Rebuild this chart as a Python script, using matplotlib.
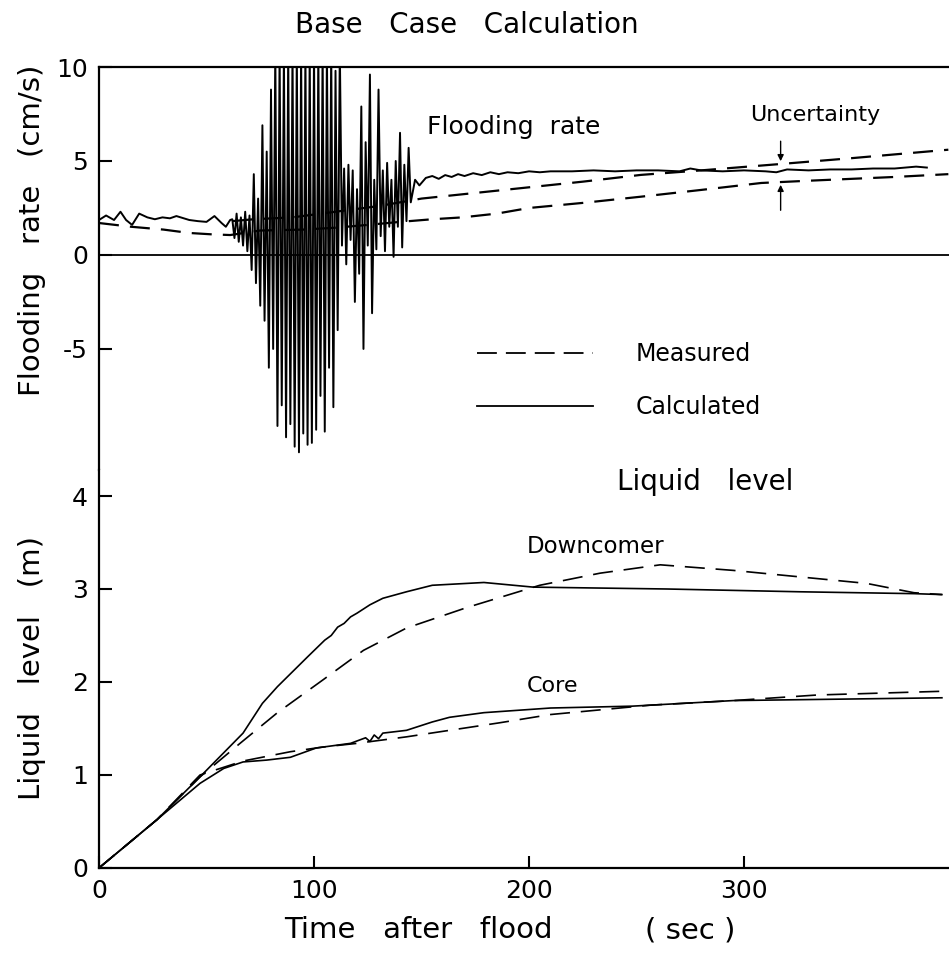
import matplotlib
matplotlib.use('Agg')
from matplotlib import pyplot as plt
from matplotlib.lines import Line2D

plt.rcParams['font.family'] = ['DejaVu Sans']
plt.rcParams['axes.unicode_minus'] = False

# flooding rate, calculated (cm/s): smooth start, oscillation, then steady
pre_t = [0, 3.3, 7, 10, 12.6, 15.4, 18.7, 22.5, 26, 29.5, 33, 36, 42, 46, 50, 53.7, 57, 59, 61]
pre_v = [1.86, 2.1, 1.86, 2.3, 1.86, 1.6, 2.2, 2.0, 1.9, 2.0, 1.95, 2.07, 1.86, 1.8, 1.76, 2.07, 1.7, 1.5, 1.86]
osc_t = list(range(62, 146))
osc_v = [1.9, 0.9, 2.2, 0.7, 2.0, 0.5, 2.3, 0.2, 2.1, -0.8, 4.3, -1.5, 3.0, -2.7, 6.9, -3.5,
         5.5, -6.0, 8.8, -5.0, 11, -9.1, 11, -8.0, 11, -9.7, 11, -9.0, 11, -10.2, 11, -10.5,
         11, -9.5, 11, -10.1, 11, -10.0, 11, -9.3, 11, -7.5, 11, -9.4, 11, -6.0, 11, -8.1,
         9.8, -4.0, 11, 0.5, 4.6, -0.5, 4.8, 0.8, 4.5, -2.5, 3.5, -1.0, 7.9, -5.0, 6.0, 0.5,
         9.6, -3.1, 4.0, 0.3, 8.8, 1.0, 4.5, 0.2, 4.9, 1.5, 4.0, -0.1, 5.0, 1.5, 6.5, 0.4,
         4.8, 1.8, 5.7, 2.8]
post_t = [147, 149, 152, 155, 158, 161, 164, 167, 170, 174, 178, 182, 186, 190, 195, 200, 205,
          210, 220, 230, 240, 250, 260, 270, 275, 280, 290, 300, 310, 315, 320, 330, 340, 350,
          360, 370, 380, 385]
post_v = [4.0, 3.7, 4.1, 4.2, 4.05, 4.25, 4.15, 4.3, 4.2, 4.35, 4.25, 4.4, 4.3, 4.4, 4.35, 4.45, 4.4,
          4.45, 4.45, 4.5, 4.45, 4.5, 4.5, 4.45, 4.6, 4.5, 4.45, 4.5, 4.45, 4.4, 4.55, 4.5, 4.55, 4.55,
          4.6, 4.6, 4.7, 4.65]

# flooding rate, measured (upper and lower uncertainty bounds)
meas_lo_t = [0, 15, 30, 42, 52, 61, 75, 95, 110, 125, 140, 155, 169, 185, 200, 225, 252, 280, 308, 330, 350, 370, 395]
meas_lo_v = [1.7, 1.5, 1.35, 1.17, 1.1, 1.06, 1.3, 1.35, 1.45, 1.6, 1.76, 1.9, 2.0, 2.2, 2.5, 2.77, 3.1, 3.46, 3.83, 3.95, 4.05, 4.15, 4.3]
meas_hi_t = [62, 72, 90, 110, 130, 145, 150, 175, 200, 225, 252, 280, 317, 350, 395]
meas_hi_v = [1.8, 1.9, 2.0, 2.3, 2.6, 2.9, 3.0, 3.3, 3.6, 3.9, 4.26, 4.5, 4.84, 5.15, 5.6]

# liquid level (m)
dc_calc_t = [0, 27, 47, 67, 76, 83, 97, 105, 108, 111, 114, 117, 120, 126, 132, 143, 155, 179, 202, 264, 326, 379, 392]
dc_calc_v = [0, 0.52, 0.98, 1.45, 1.77, 1.95, 2.27, 2.45, 2.5, 2.59, 2.63, 2.7, 2.74, 2.83, 2.9, 2.97, 3.04, 3.07, 3.02, 3.0, 2.97, 2.95, 2.94]
dc_meas_t = [0, 27, 47, 65.6, 83, 104, 123, 143, 171, 205, 233, 261, 295, 326, 357, 379, 392]
dc_meas_v = [0, 0.52, 0.98, 1.34, 1.67, 2.02, 2.34, 2.58, 2.8, 3.04, 3.17, 3.26, 3.2, 3.13, 3.06, 2.96, 2.94]
core_calc_t = [0, 27, 47, 58, 67, 78, 89, 101, 117, 124, 126, 128, 130, 132, 143, 155, 163, 179, 210, 248, 295, 392]
core_calc_v = [0, 0.52, 0.91, 1.07, 1.14, 1.16, 1.19, 1.29, 1.34, 1.4, 1.36, 1.43, 1.39, 1.45, 1.48, 1.57, 1.62, 1.67, 1.72, 1.74, 1.8, 1.83]
core_meas_t = [0, 27, 47, 67, 89, 104, 120, 143, 163, 186, 210, 256, 295, 334, 392]
core_meas_v = [0, 0.52, 1.0, 1.15, 1.25, 1.3, 1.34, 1.41, 1.48, 1.56, 1.65, 1.75, 1.8, 1.86, 1.9]

calc_t = pre_t + osc_t + post_t
calc_v = pre_v + osc_v + post_v

fig = plt.figure(figsize=(9.49, 9.56), dpi=100)
ax1 = fig.add_axes([0.1043, 0.5084, 0.8957, 0.4215])
ax2 = fig.add_axes([0.1043, 0.0921, 0.8957, 0.4163])

tmax = 395.3
dash_top = (9, 5)

# --- flooding rate panel
ax1.plot(calc_t, calc_v, color='black', lw=1.4)
ax1.plot(meas_lo_t, meas_lo_v, color='black', lw=1.6, dashes=dash_top)
ax1.plot(meas_hi_t, meas_hi_v, color='black', lw=1.6, dashes=dash_top)
ax1.axhline(0, color='black', lw=1.3)
ax1.set_xlim(0, tmax)
ax1.set_ylim(-11.44, 10)
ax1.set_yticks([10, 5, 0, -5])
ax1.set_yticklabels(['10', '5', '0', '-5'])
ax1.set_xticks([])
for s in ['right', 'bottom']:
    ax1.spines[s].set_visible(False)
for s in ['left', 'top']:
    ax1.spines[s].set_linewidth(1.6)
ax1.tick_params(axis='y', direction='in', length=9, width=1.5, labelsize=18, pad=8)

ax1.text(193, 6.8, 'Flooding  rate', fontsize=18, ha='center', va='center')
ax1.text(333, 7.45, 'Uncertainty', fontsize=16, ha='center', va='center')
ax1.annotate('', xy=(317, 4.84), xytext=(317, 6.2),
             arrowprops=dict(arrowstyle='-|>', color='black', lw=1, mutation_scale=9))
ax1.annotate('', xy=(317, 3.88), xytext=(317, 2.23),
             arrowprops=dict(arrowstyle='-|>', color='black', lw=1, mutation_scale=9))

handles = [Line2D([], [], color='black', lw=1.3, dashes=(11, 5)),
           Line2D([], [], color='black', lw=1.3)]
ax1.legend(handles, ['Measured', 'Calculated'], loc='upper left',
           bbox_to_anchor=(0.5026, 0.6423), bbox_transform=fig.transFigure,
           frameon=False, fontsize=17, handlelength=4.9, handletextpad=1.8,
           labelspacing=1.25, borderpad=0, borderaxespad=0)

# --- liquid level panel
dash_bot = (12, 6.5)
ax2.plot(dc_calc_t, dc_calc_v, color='black', lw=1.2)
ax2.plot(dc_meas_t, dc_meas_v, color='black', lw=1.2, dashes=dash_bot)
ax2.plot(core_calc_t, core_calc_v, color='black', lw=1.2)
ax2.plot(core_meas_t, core_meas_v, color='black', lw=1.2, dashes=dash_bot)
ax2.set_xlim(0, tmax)
ax2.set_ylim(0, 4.28)
ax2.set_yticks([0, 1, 2, 3, 4])
ax2.set_xticks([0, 100, 200, 300])
for s in ['right', 'top']:
    ax2.spines[s].set_visible(False)
for s in ['left', 'bottom']:
    ax2.spines[s].set_linewidth(1.6)
ax2.tick_params(axis='both', direction='in', length=9, width=1.5, labelsize=18, pad=8)

ax2.text(282, 4.15, 'Liquid   level', fontsize=20, ha='center', va='center')
ax2.text(231, 3.46, 'Downcomer', fontsize=16.5, ha='center', va='center')
ax2.text(211, 1.96, 'Core', fontsize=16, ha='center', va='center')

fig.text(467 / 949, 1 - 25 / 956, 'Base   Case   Calculation', fontsize=20, ha='center', va='center')
fig.text(32 / 949, 1 - 230 / 956, 'Flooding   rate   (cm/s)', fontsize=21, rotation=90,
         ha='center', va='center')
fig.text(32 / 949, 1 - 668 / 956, 'Liquid   level   (m)', fontsize=21, rotation=90,
         ha='center', va='center')
fig.text(418 / 949, 1 - 930 / 956, 'Time   after   flood', fontsize=21, ha='center', va='center')
fig.text(690 / 949, 1 - 930 / 956, '( sec )', fontsize=21, ha='center', va='center')

fig.savefig('out.png', dpi=100)
